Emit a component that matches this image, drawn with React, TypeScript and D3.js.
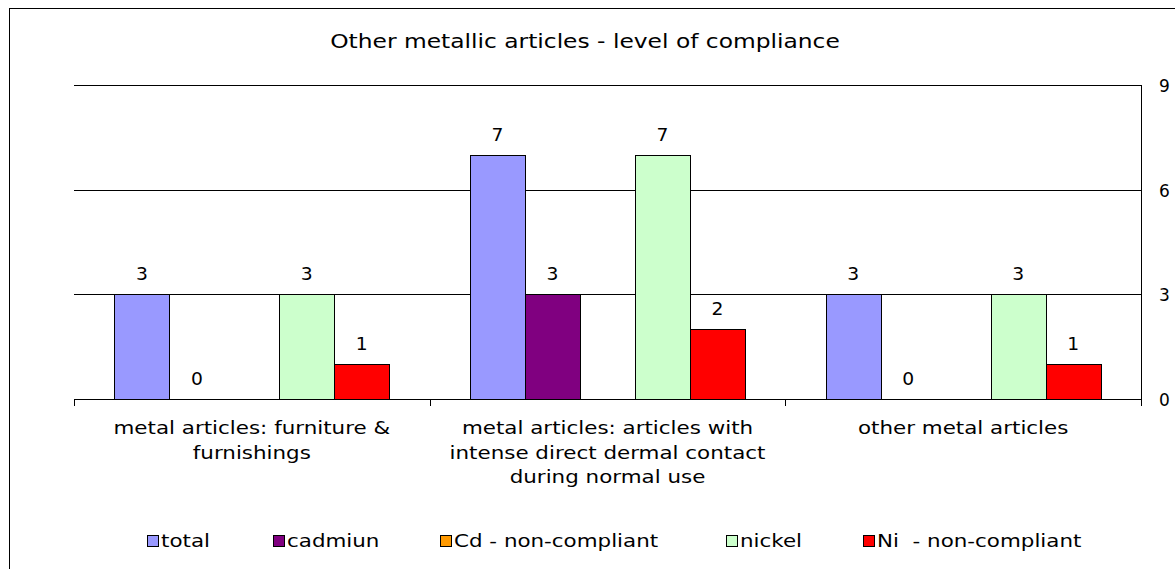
import * as d3 from 'd3';

const categories = [
  ['metal articles: furniture &', 'furnishings'],
  ['metal articles: articles with', 'intense direct dermal contact', 'during normal use'],
  ['other metal articles'],
];
const seriesNames = ['total', 'cadmiun', 'Cd - non-compliant', 'nickel', 'Ni  - non-compliant'];
const seriesColors = ['#9999FF', '#800080', '#FF9900', '#CCFFCC', '#FF0000'];
// one row per category; null = no value
const values: (number | null)[][] = [
  [3, 0, null, 3, 1],
  [7, 3, null, 7, 2],
  [3, 0, null, 3, 1],
];
const yTicks = [0, 3, 6, 9];

const W = 1175;
const H = 569;
const font = 'DejaVu Sans, Verdana, sans-serif';

function Label(props: { x: number; y: number; size: number; sx: number; anchor?: string; children: string }) {
  const { x, y, size, sx, anchor = 'start', children } = props;
  return (
    <text transform={`translate(${x},${y}) scale(${sx},1)`} textAnchor={anchor}
      fontFamily={font} fontSize={size} style={{ whiteSpace: 'pre' }}>
      {children}
    </text>
  );
}

export default function App() {
  const left = 74, right = 1141, top = 85, bottom = 399;
  const x0 = d3.scaleBand<number>().domain(d3.range(categories.length)).range([left, right]);
  const x1 = d3.scaleBand<number>().domain(d3.range(seriesNames.length))
    .range([0, x0.bandwidth()]).paddingInner(0).paddingOuter(0.735);
  const y = d3.scaleLinear().domain([0, 9]).range([bottom, top]);

  const legendX = [147, 273, 440, 726, 863];

  return (
    <svg width={W} height={H} style={{ position: 'absolute', left: 0, top: 0 }}>
      <rect x={0} y={0} width={W} height={H} fill="#fff" />
      <rect x={9.5} y={8.5} width={W + 20} height={H + 20} fill="none" stroke="#000" strokeWidth={1} />
      <Label x={585} y={48} size={19} sx={1.23} anchor="middle">Other metallic articles - level of compliance</Label>

      {yTicks.map(t => (
        <line key={t} x1={left} x2={right} y1={Math.round(y(t)) + 0.5} y2={Math.round(y(t)) + 0.5} stroke="#000" />
      ))}

      {values.map((row, ci) => row.map((v, si) => {
        if (v === null) return null;
        const bx = (x0(ci) ?? 0) + (x1(si) ?? 0);
        const bw = x1.bandwidth();
        return (
          <g key={`${ci}-${si}`}>
            {v > 0 && (
              <rect x={Math.round(bx) + 0.5} y={Math.round(y(v)) + 0.5} width={Math.round(bw)}
                height={Math.round(y(0)) - Math.round(y(v))} fill={seriesColors[si]} stroke="#000" />
            )}
            <Label x={bx + bw / 2} y={y(v) - 14} size={17} sx={1.1} anchor="middle">{String(v)}</Label>
          </g>
        );
      }))}

      {/* right axis */}
      <line x1={right + 0.5} x2={right + 0.5} y1={top} y2={bottom + 4} stroke="#000" />
      {yTicks.map(t => (
        <g key={t}>
          <line x1={right - 5} x2={right} y1={Math.round(y(t)) + 0.5} y2={Math.round(y(t)) + 0.5} stroke="#000" />
          <text x={1159} y={y(t) + 7} fontFamily={font} fontSize={17}>{t}</text>
        </g>
      ))}

      {/* category ticks */}
      {d3.range(categories.length + 1).map(i => {
        const xx = Math.round(left + i * x0.step()) + 0.5;
        return <line key={i} x1={xx} x2={xx} y1={bottom} y2={bottom + 7} stroke="#000" />;
      })}
      {categories.map((lines, ci) => lines.map((ln, li) => (
        <Label key={`${ci}-${li}`} x={(x0(ci) ?? 0) + x0.bandwidth() / 2} y={434 + li * 24.5} size={17} sx={1.26} anchor="middle">{ln}</Label>
      )))}

      {/* legend */}
      {seriesNames.map((s, i) => (
        <g key={s}>
          <rect x={legendX[i] + 0.5} y={535.5} width={11} height={11} fill={seriesColors[i]} stroke="#000" />
          <Label x={legendX[i] + 14} y={547} size={17} sx={1.26}>{s}</Label>
        </g>
      ))}
    </svg>
  );
}
